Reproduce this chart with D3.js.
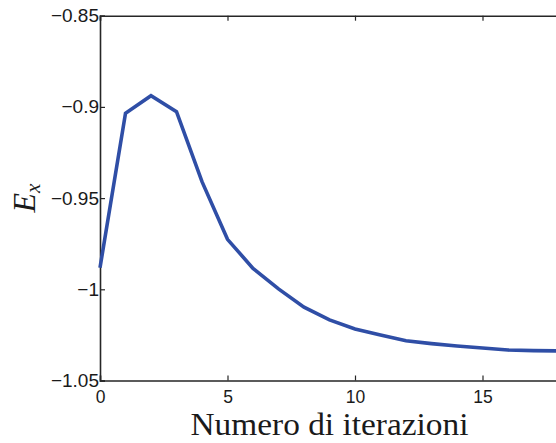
<!DOCTYPE html>
<html>
<head>
<meta charset="utf-8">
<script src="https://cdn.jsdelivr.net/npm/d3@7/dist/d3.min.js"></script>
<style>
  html, body { margin: 0; padding: 0; background: #fff; }
  svg { display: block; }
</style>
</head>
<body>
<div id="chart"></div>
<script>
// Energy estimate per iteration
const iterations = [0, 1, 2, 3, 4, 5, 6, 7, 8, 9, 10, 11, 12, 13, 14, 15, 16, 17, 18];
const energy = [-0.9882, -0.9035, -0.8939, -0.9026, -0.9410, -0.9726, -0.9885, -0.9998,
                -1.0098, -1.0168, -1.0218, -1.0251, -1.0282, -1.0298, -1.0311, -1.0322,
                -1.0333, -1.0336, -1.0338];
const xTicks = [0, 5, 10, 15];
const yTicks = [-0.85, -0.9, -0.95, -1, -1.05];
const xTitle = "Numero di iterazioni";

const W = 556, H = 443;
const plotLeft = 100, plotRight = 559, plotTop = 15.7, plotBottom = 380.5;

const svg = d3.select("#chart").append("svg")
  .attr("width", W).attr("height", H);

const x = d3.scaleLinear().domain([0, 18]).range([plotLeft, plotRight]);
const y = d3.scaleLinear().domain([-1.05, -0.85]).range([plotBottom, plotTop]);

const fmtY = d => (d < 0 ? "\u2212" : "") + String(Math.abs(d));
const axisColor = "#262626";

// Bottom axis
const gx = svg.append("g").attr("transform", `translate(0,${plotBottom})`)
  .call(d3.axisBottom(x).tickValues(xTicks).tickSize(-5).tickPadding(10).tickFormat(d3.format("d")));
// Top axis (ticks only)
const gxt = svg.append("g").attr("transform", `translate(0,${plotTop})`)
  .call(d3.axisTop(x).tickValues(xTicks).tickSize(-5).tickFormat(""));
// Left axis
const gy = svg.append("g").attr("transform", `translate(${plotLeft},0)`)
  .call(d3.axisLeft(y).tickValues(yTicks).tickSize(-5).tickPadding(1).tickFormat(fmtY));

[gx, gxt, gy].forEach(g => {
  g.select(".domain").attr("stroke", axisColor).attr("stroke-width", 1.6);
  g.selectAll(".tick line").attr("stroke", axisColor).attr("stroke-width", 1.2);
  g.selectAll(".tick text")
    .attr("fill", "#1a1a1a")
    .attr("font-family", "'Liberation Sans', Arial, sans-serif");
});
gy.selectAll(".tick text").attr("font-size", 19);
gx.selectAll(".tick text").attr("font-size", 17.5).attr("dy", "0.71em");

// Series line
const line = d3.line()
  .x((d, i) => x(iterations[i]))
  .y(d => y(d));

svg.append("path")
  .datum(energy)
  .attr("fill", "none")
  .attr("stroke", "#2f4ea6")
  .attr("stroke-width", 3.6)
  .attr("stroke-linejoin", "miter")
  .attr("d", line);

// Axis titles
svg.append("text")
  .attr("x", (plotLeft + plotRight) / 2)
  .attr("y", 435)
  .attr("text-anchor", "middle")
  .attr("font-family", "'Liberation Serif', 'Times New Roman', serif")
  .attr("font-size", 30.5)
  .attr("fill", "#1a1a1a")
  .attr("textLength", 278)
  .attr("lengthAdjust", "spacingAndGlyphs")
  .text(xTitle);

const yLabel = svg.append("text")
  .attr("transform", "translate(35,198) rotate(-90)")
  .attr("text-anchor", "middle")
  .attr("font-family", "'Liberation Serif', 'Times New Roman', serif")
  .attr("font-style", "italic")
  .attr("font-size", 32)
  .attr("fill", "#1a1a1a");
yLabel.append("tspan").text("E");
yLabel.append("tspan").attr("font-size", 21).attr("dy", 5).text("x");
</script>
</body>
</html>
